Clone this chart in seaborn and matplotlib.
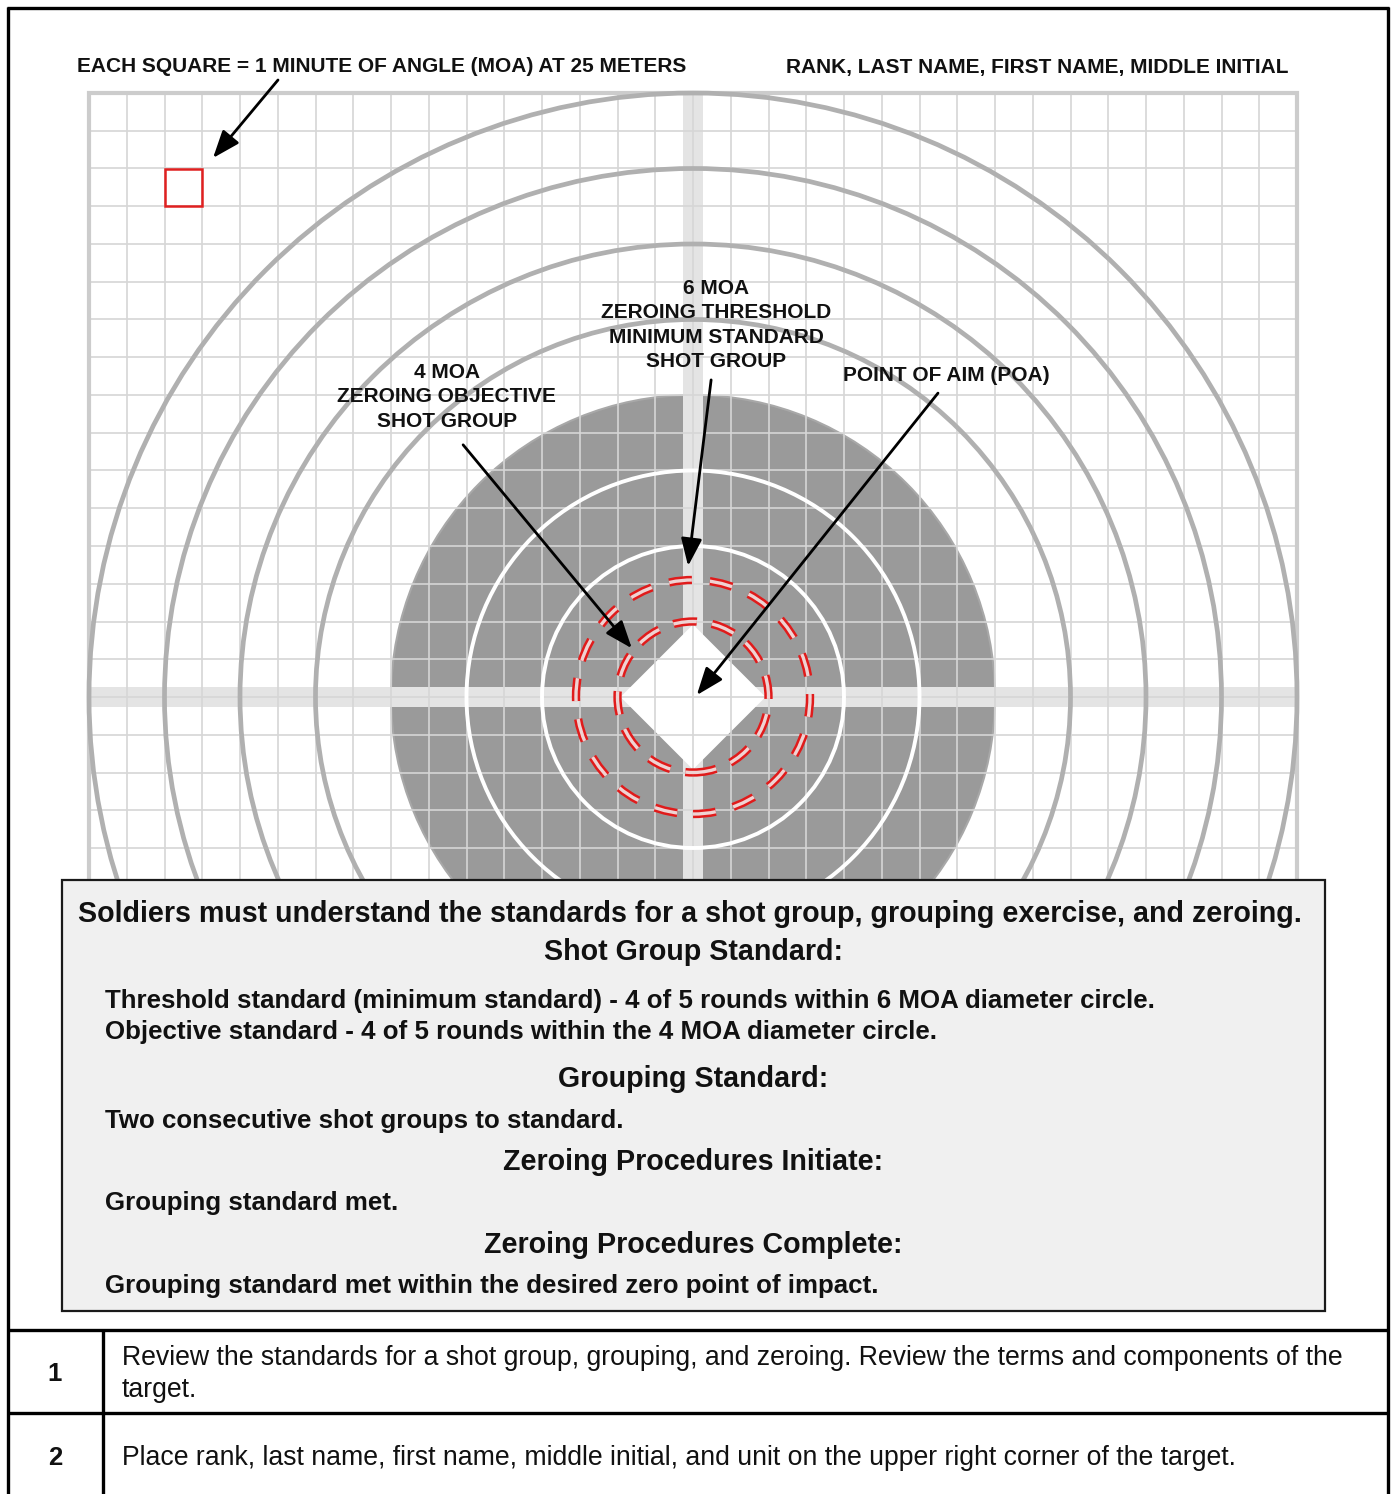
import matplotlib
matplotlib.use('Agg')
import matplotlib.pyplot as plt
from matplotlib.patches import Circle, Rectangle, Polygon
import numpy as np
import seaborn as sns

sns.set_theme(style='white')
plt.rcParams['font.family'] = ['Liberation Sans', 'DejaVu Sans']
plt.rcParams['lines.scale_dashes'] = False

# target geometry (MOA units)
grid_half = 16
gray_rings = [10, 12, 14, 16]
white_rings = [4, 6]
disc_radius = 8
group_rings = [2.0, 3.1]          # 4 MOA / 6 MOA shot group circles
group_dashes = [(17, 11), (16.5, 13)]
diamond_half = 1.92
band_half = 0.26
square_cell = (-14, 13)

header_left = 'EACH SQUARE = 1 MINUTE OF ANGLE (MOA) AT 25 METERS'
header_right = 'RANK, LAST NAME, FIRST NAME, MIDDLE INITIAL'
label_6moa = '6 MOA\nZEROING THRESHOLD\nMINIMUM STANDARD\nSHOT GROUP'
label_4moa = '4 MOA\nZEROING OBJECTIVE\nSHOT GROUP'
label_poa = 'POINT OF AIM (POA)'

box_title = 'Soldiers must understand the standards for a shot group, grouping exercise, and zeroing.'
box_rows = [
    ('h', 'Shot Group Standard:', 951),
    ('t', 'Threshold standard (minimum standard) - 4 of 5 rounds within 6 MOA diameter circle.', 1000),
    ('t', 'Objective standard - 4 of 5 rounds within the 4 MOA diameter circle.', 1031),
    ('h', 'Grouping Standard:', 1078),
    ('t', 'Two consecutive shot groups to standard.', 1120),
    ('h', 'Zeroing Procedures Initiate:', 1161),
    ('t', 'Grouping standard met.', 1202),
    ('h', 'Zeroing Procedures Complete:', 1244),
    ('t', 'Grouping standard met within the desired zero point of impact.', 1285),
]
step_nums = ['1', '2']
step_text = [
    'Review the standards for a shot group, grouping, and zeroing. Review the terms and components of the\ntarget.',
    'Place rank, last name, first name, middle initial, and unit on the upper right corner of the target.',
]

W, H = 1392, 1494
cx, cy, s = 693, 697, 37.75
xl = (-16.3, 16.3)
yl = (-4.85, 16.3)

fig = plt.figure(figsize=(W / 100, H / 100), dpi=100)
fig.patch.set_facecolor('white')

px_l = cx + xl[0] * s
px_r = cx + xl[1] * s
py_t = cy - yl[1] * s
py_b = cy - yl[0] * s
ax = fig.add_axes([px_l / W, 1 - py_b / H, (px_r - px_l) / W, (py_b - py_t) / H])
ax.set_xlim(*xl)
ax.set_ylim(*yl)
ax.axis('off')

# dark disc
ax.add_patch(Circle((0, 0), disc_radius, facecolor='#9a9a9a', edgecolor='#a8a8a8', lw=1.5, zorder=1))
# crosshair bands
ax.add_patch(Rectangle((-band_half, -grid_half), 2 * band_half, 2 * grid_half, color='#e4e4e4', lw=0, zorder=2))
ax.add_patch(Rectangle((-grid_half, -band_half), 2 * grid_half, 2 * band_half, color='#e4e4e4', lw=0, zorder=2))
# white diamond
ax.add_patch(Polygon([(0, diamond_half), (diamond_half, 0), (0, -diamond_half), (-diamond_half, 0)],
                     closed=True, facecolor='white', lw=0, zorder=2.5))
# grid
ticks = np.arange(-grid_half, grid_half + 1)
ax.vlines(ticks, -grid_half, grid_half, color='#d6d6d6', lw=1.2, zorder=3)
ax.hlines(ticks, -grid_half, grid_half, color='#d6d6d6', lw=1.2, zorder=3)
ax.plot([-grid_half, -grid_half, grid_half, grid_half], [-grid_half, grid_half, grid_half, -grid_half],
        color='#cccccc', lw=3, zorder=3.2, solid_joinstyle='miter')

for r in gray_rings:
    ax.add_patch(Circle((0, 0), r, fill=False, edgecolor='#b0b0b0', lw=3.4, zorder=4))
for r in white_rings:
    ax.add_patch(Circle((0, 0), r, fill=False, edgecolor='white', lw=2.8, zorder=4))

# dashed shot group circles
for r, (on, off) in zip(group_rings, group_dashes):
    ax.add_patch(Circle((0, 0), r, fill=False, edgecolor='#e01b1b', lw=6.0,
                        linestyle=(0, (on, off)), capstyle='butt', zorder=5))
    ax.add_patch(Circle((0, 0), r, fill=False, edgecolor='#efd3d3', lw=2.4,
                        linestyle=(0, (on, off)), capstyle='butt', zorder=5.1))

ax.add_patch(Rectangle(square_cell, 1, 1, fill=False, edgecolor='#e02020', lw=1.8, zorder=5))

aprops = dict(arrowstyle='-|>,head_length=0.42,head_width=0.16', mutation_scale=40,
              color='black', lw=2.0, shrinkA=0, shrinkB=0)
lab = dict(fontsize=15, fontweight='bold', ha='center', va='center', color='#111111',
           linespacing=1.36, zorder=7)

ax.annotate('', xy=(-1.62, 1.29), xytext=(-6.09, 6.68), arrowprops=aprops, zorder=6)
ax.annotate('', xy=(-0.13, 3.47), xytext=(0.48, 8.40), arrowprops=aprops, zorder=6)
ax.annotate('', xy=(0.1, 0.05), xytext=(6.49, 8.05), arrowprops=aprops, zorder=6)
ax.text(0.61, 9.85, label_6moa, **lab)
ax.text(-6.52, 7.95, label_4moa, **lab)
ax.text(6.70, 8.52, label_poa, **lab)

# page overlay in pixel coordinates
top = fig.add_axes([0, 0, 1, 1], facecolor='none')
top.set_xlim(0, W)
top.set_ylim(H, 0)
top.axis('off')

top.text(77, 66, header_left, fontsize=15, fontweight='bold', ha='left', va='center', color='#111111')
top.text(1289, 67, header_right, fontsize=15, fontweight='bold', ha='right', va='center', color='#111111')
top.annotate('', xy=(213, 158), xytext=(278, 80), arrowprops=aprops)

top.add_patch(Rectangle((62, 880), 1263, 431, facecolor='#f0f0f0', edgecolor='#1a1a1a', lw=1.6))
top.text(690, 914, box_title, fontsize=20.6, fontweight='bold', ha='center', va='center', color='#111111')
for kind, txt, y in box_rows:
    if kind == 'h':
        top.text(693, y + 1, txt, fontsize=20.6, fontweight='bold', ha='center', va='center', color='#111111')
    else:
        top.text(105, y + 1, txt, fontsize=18.6, fontweight='bold', ha='left', va='center', color='#111111')

# frame and table
lk = dict(color='black', lw=2.4, solid_capstyle='butt')
top.plot([8, 8], [7, H], **lk)
top.plot([1388, 1388], [7, H], **lk)
top.plot([7, 1389], [8, 8], **lk)
top.plot([7, 1389], [1330, 1330], **lk)
top.plot([7, 1389], [1413, 1413], **lk)
top.plot([103, 103], [1330, H], **lk)

row_y = [1374, 1458]
for n, txt, y in zip(step_nums, step_text, row_y):
    top.text(55, y, n, fontsize=18.5, fontweight='bold', ha='center', va='center', color='#111111')
    top.text(122, y, txt, fontsize=19.2, ha='left', va='center', color='#111111', linespacing=1.3)

fig.savefig('out.png', dpi=100)
